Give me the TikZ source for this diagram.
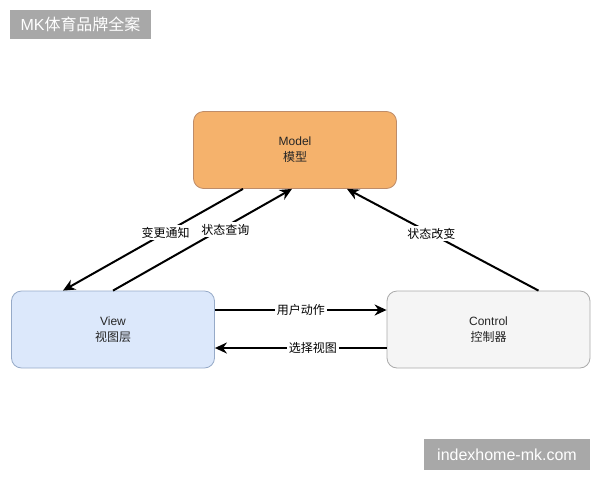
\documentclass[tikz,border=0pt]{standalone}
\usepackage{fontspec}
\setmainfont{Liberation Sans}
\newfontfamily\cjk{Noto Sans CJK SC}
\usetikzlibrary{arrows.meta,calc}

\definecolor{modelfill}{RGB}{245,178,108}
\definecolor{modeldraw}{RGB}{190,140,105}
\definecolor{viewfill}{RGB}{220,232,251}
\definecolor{viewdraw}{RGB}{150,170,200}
\definecolor{ctrlfill}{RGB}{245,245,245}
\definecolor{ctrldraw}{RGB}{170,170,170}
\definecolor{wmgray}{RGB}{168,168,168}

\begin{document}
\begin{tikzpicture}[x=1pt, y=1pt, >={Stealth[length=12pt,width=11pt]},
    box/.style={rounded corners=10pt, minimum width=203pt, minimum height=77pt, align=center,
        font=\fontsize{12}{16}\selectfont, text=black!85, line width=0.8pt},
    flow/.style={->, line width=2pt},
    lbl/.style={fill=white, inner sep=2pt, font=\fontsize{12}{14}\selectfont\cjk},
    wmark/.style={fill=wmgray, text=white, font=\fontsize{16}{18}\selectfont, inner sep=0pt}]
    \useasboundingbox (0,0) rectangle (600,-480);

    % Doboz: Model, View, Control
    \node[box, fill=modelfill, draw=modeldraw] (model) at (295,-150) {Model\\{\cjk 模型}};
    \node[box, fill=viewfill, draw=viewdraw] (view) at (113,-329.5) {View\\{\cjk 视图层}};
    \node[box, fill=ctrlfill, draw=ctrldraw] (control) at (488.5,-329.5) {Control\\{\cjk 控制器}};

    % Model <-> View
    \draw[flow] ([xshift=-52pt]model.south) -- node[lbl, pos=0.43] {变更通知} ([xshift=-50pt]view.north);
    \draw[flow] (view.north) -- node[lbl, pos=0.6, xshift=5pt] {状态查询} ([xshift=-3pt]model.south);

    % Control -> Model
    \draw[flow] ([xshift=50pt]control.north) -- node[lbl, pos=0.56] {状态改变} ([xshift=52pt]model.south);

    % View <-> Control
    \draw[flow] ([yshift=19.5pt]view.east) -- node[lbl] {用户动作} ([yshift=19.5pt]control.west);
    \draw[flow] ([yshift=-18.5pt]control.west) -- node[lbl, pos=0.43] {选择视图} ([yshift=-18.5pt]view.east);

    % Vizjel
    \node[wmark, minimum width=141pt, minimum height=29pt] (wmtop) at (80.5,-24.5) {MK{\cjk 体育品牌全案}};
    \node[wmark, minimum width=166pt, minimum height=31pt] (wmbot) at (507,-454.5) {indexhome-mk.com};
\end{tikzpicture}
\end{document}
